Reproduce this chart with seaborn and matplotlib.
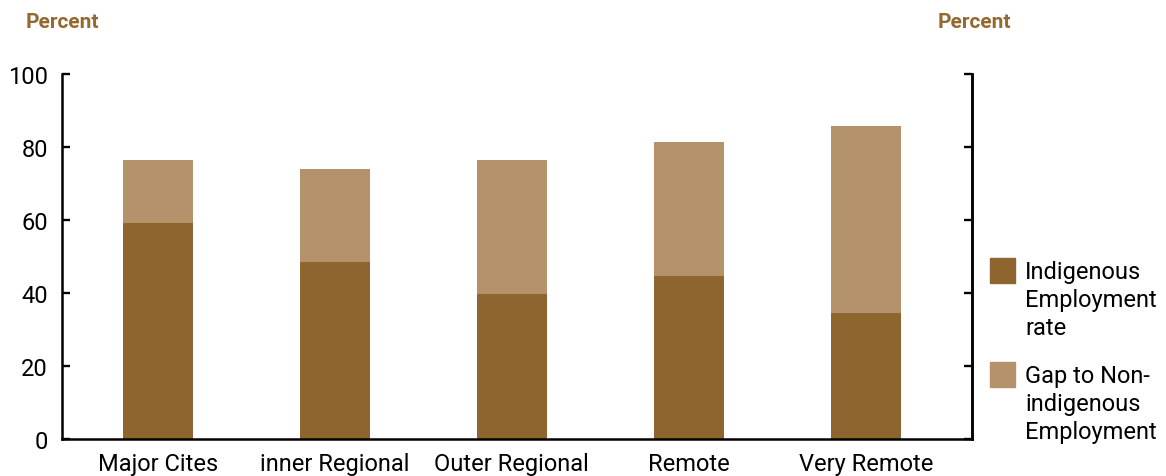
import pandas as pd
import matplotlib.pyplot as plt
import seaborn as sns
from matplotlib.patches import Rectangle

regions = ['Major Cites', 'inner Regional', 'Outer Regional', 'Remote', 'Very Remote']
indigenous_rate = [59.2, 48.5, 39.7, 44.7, 34.5]
gap_to_non = [17.2, 25.5, 36.7, 36.7, 51.3]
legend_labels = ['Indigenous\nEmployment\nrate', 'Gap to Non-\nindigenous\nEmployment']

dark = '#8E652E'
light = '#B4936C'
label_col = '#94692F'

df = pd.DataFrame({'region': regions, 'indigenous': indigenous_rate, 'gap': gap_to_non})
df['total'] = df['indigenous'] + df['gap']

sns.set_style('ticks')
plt.rcParams['font.family'] = ['Roboto', 'DejaVu Sans']

W, H = 1166, 477
fig, ax = plt.subplots(figsize=(W / 100, H / 100), dpi=100)
fig.subplots_adjust(left=62 / W, right=972 / W, bottom=1 - 440 / H, top=1 - 75 / H)

# stacked: total bar (light) behind, indigenous bar (dark) in front
sns.barplot(data=df, x='region', y='total', color=light, width=0.395,
            saturation=1, linewidth=0, ax=ax)
sns.barplot(data=df, x='region', y='indigenous', color=dark, width=0.395,
            saturation=1, linewidth=0, ax=ax)

ax.set_ylim(0, 100)
ax.set_xlim(-0.542, 4.6)
ax.set_yticks(range(0, 101, 20))
ax.set_xlabel('')
ax.set_ylabel('')
ax.tick_params(axis='y', labelsize=17, length=6, width=1.7, direction='in',
               pad=10, colors='black')
ax.tick_params(axis='x', labelsize=17, length=0, pad=9.5, colors='black')
for s in ['left', 'bottom', 'right']:
    ax.spines[s].set_linewidth(1.8)
    ax.spines[s].set_color('black')
ax.spines['top'].set_visible(False)

ax2 = ax.twinx()
ax2.set_ylim(0, 100)
ax2.set_yticks(range(0, 101, 20))
ax2.set_yticklabels([])
ax2.tick_params(axis='y', length=6, width=1.7, direction='in', colors='black')
for s in ['top', 'left', 'bottom']:
    ax2.spines[s].set_visible(False)
ax2.spines['right'].set_linewidth(1.8)
ax2.spines['right'].set_color('black')

fig.text(62 / W, 1 - 22 / H, 'Percent', color=label_col, fontsize=15, fontweight='bold',
         ha='center', va='center')
fig.text(974 / W, 1 - 22 / H, 'Percent', color=label_col, fontsize=15, fontweight='bold',
         ha='center', va='center')

# legend: swatch aligned with first text line
for i, (lab, col) in enumerate(zip(legend_labels, [dark, light])):
    top = 259 + i * 104
    fig.patches.append(Rectangle((990 / W, 1 - (top + 25) / H), 25 / W, 25 / H,
                                 transform=fig.transFigure, color=col))
    fig.text(1025 / W, 1 - (top + 2) / H, lab, fontsize=17, va='top', ha='left',
             linespacing=1.27, color='black')

fig.savefig('out.png', dpi=100)
